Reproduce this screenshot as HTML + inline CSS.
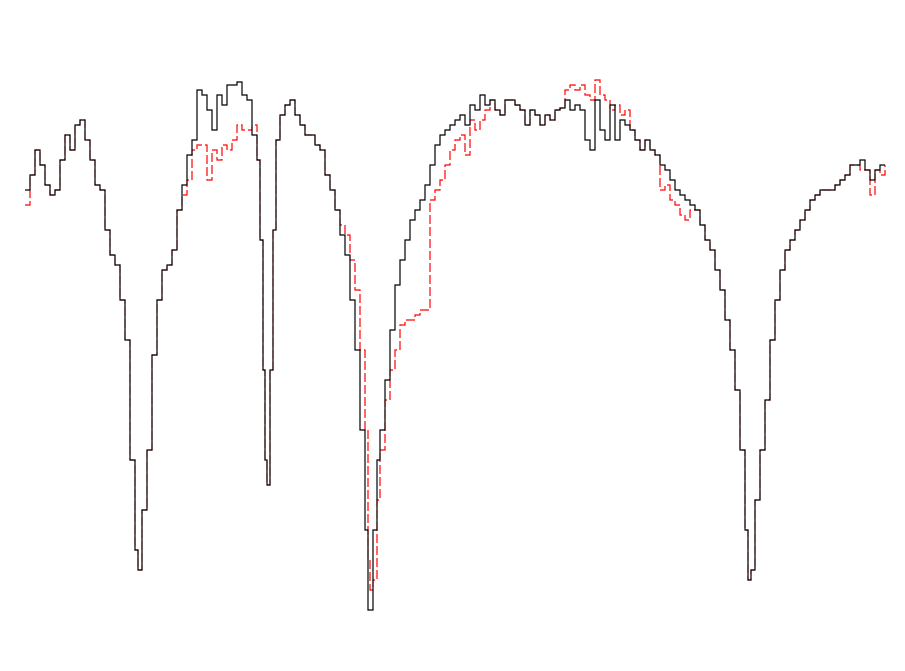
<!DOCTYPE html>
<html><head><meta charset="utf-8"><style>
html,body{margin:0;padding:0;background:#fff;width:905px;height:671px;overflow:hidden}
</style></head><body>
<svg id="chart" width="905" height="671" xmlns="http://www.w3.org/2000/svg">
<rect x="0" y="0" width="905" height="671" fill="#fff"/>
</svg>
<script>
const wave=[25,30,35,40,45,50,55,60,65,70,75,80,85,90,95,100,105,110,115,120,125,130,135,138,142,147,152,157,162,167,172,177,182,187,192,197,202,207,212,217,222,227,232,237,242,247,252,257,260,263,265,267,270,273,276,280,285,290,295,300,305,310,315,320,325,330,335,340,345,350,355,360,365,368,370,373,377,380,385,390,395,400,405,410,415,420,425,430,435,440,445,450,455,460,465,470,475,480,485,490,495,500,505,510,515,520,525,530,535,540,545,550,555,560,565,570,575,580,585,590,595,600,605,610,615,620,625,630,635,640,645,650,655,660,665,670,675,680,685,690,695,700,705,710,715,720,725,730,735,740,745,748,751,755,760,765,770,775,780,785,790,795,800,805,810,815,820,825,830,835,840,845,850,855,860,865,870,875,880,885];
const fluxModel=[92,95,100,97,93,91,92,98,103,100,105,106,102,98,93,92,84,79,77,70,62,38,20,16,28,40,59,70,76,77,80,88,93,99,102,112,111,108,104,111,109,113,113,113.6,111,110,103,98,82,56,38,33,56,84,102,107,109,110,107,105,103,103,101,100,95,92,88,83,79,70,60,44,24,8,8,24,38,44,54,64,73,78,82,86,88,90,93,97,101,103,104,105,106,107,105,109,108,111,109,110,108,107,110,110,109,108,105,108,107,105,107,106,108,108.4,110,108,109,108,102,100,110,104,102,109,102,106,105,104,102,100,102,100,99,97,96,94,92,91,90,89,88,85,82,80,76,72,66,60,52,40,24,14,16,30,40,50,62,70,76,80,82,84,86,88,90,91,92,92,92,93,94,95,97,97,98,96,94,96,97,97];
const fluxObs=[89,95,100,97,93,91,92,98,103,100,105,106,102,98,93,92,84,79,77,70,62,38,20,16,28,40,59,70,76,77,80,88,91,94,100,101,101,94,100,98,101,100,102,105,104,104,105,98,82,56,38,33,56,84,102,107,109,110,107,105,103,103,101,100,95,92,88,85,83,78,72,60,44,18,12,14,30,40,50,56,60,65,66,66,67,68,68,90,92,94,97,100,102,103,99,106,104,106,108,110,108,107,110,110,109,108,105,108,107,105,107,106,108,108.4,112,113,112,113,111,110,114,111,110,108,109,107,108,104,102,100,102,100,99,92,93,90,89,87,86,88,88,85,82,80,76,72,66,60,52,40,24,14,16,30,40,50,62,70,76,80,82,84,86,88,90,91,92,92,92,93,94,95,97,97,96,96,91,96,95,97];

function xScale(w){return 25+(w-25)*(885-25)/(885-25);}
function yScale(f){return 650-f*5;}
function stepPath(ws,fs){
  let d='M'+xScale(ws[0])+','+yScale(fs[0]);
  for(let i=1;i<ws.length;i++){
    d+=' H'+xScale(ws[i])+' V'+yScale(fs[i]);
  }
  return d;
}
const svg=document.getElementById('chart');
const NS='http://www.w3.org/2000/svg';
const red=document.createElementNS(NS,'path');
red.setAttribute('d',stepPath(wave,fluxObs));
red.setAttribute('fill','none');
red.setAttribute('stroke','#ff0000');
red.setAttribute('stroke-width','1.2');
red.setAttribute('stroke-dasharray','9,3');


svg.appendChild(red);
const blk=document.createElementNS(NS,'path');
blk.setAttribute('d',stepPath(wave,fluxModel));
blk.setAttribute('fill','none');
blk.setAttribute('stroke','#000');
blk.setAttribute('stroke-width','1.2');


svg.appendChild(blk);
</script>
</body></html>
